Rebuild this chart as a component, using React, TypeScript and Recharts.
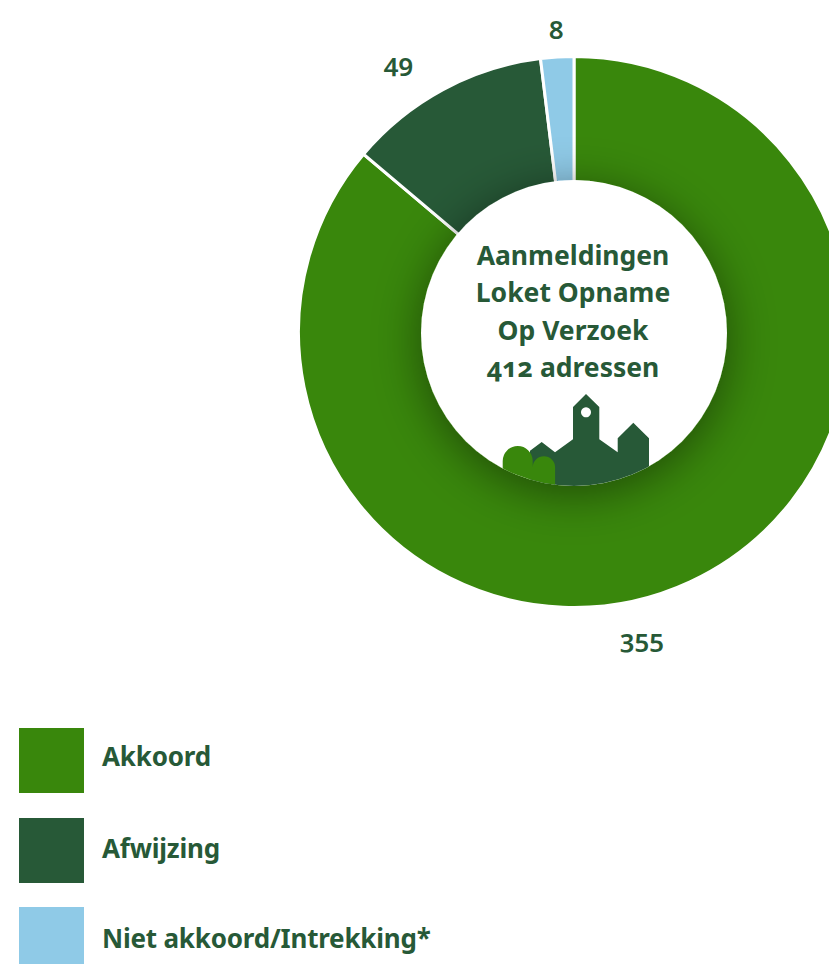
import { PieChart, Pie, Cell, Legend } from "recharts";

const CATEGORIES = ["Akkoord", "Afwijzing", "Niet akkoord/Intrekking*"];
const VALUES = [355, 49, 8];
const COLORS = ["#39870c", "#275937", "#8fcae7"];
const CENTER_LINES = ["Aanmeldingen", "Loket Opname", "Op Verzoek", "412 adressen"];

const TEXT_COLOR = "#275937";
const FONT = "'Noto Sans', sans-serif";

const data = CATEGORIES.map((name, i) => ({ name, value: VALUES[i] }));

const CX = 574;
const CY = 332;
const HOLE_CY = 333;
const INNER = 150;
const HOLE = 153;
const OUTER = 275.5;

// labels sit off the slice midpoint in the original, so nudge each one
const LABEL_NUDGE = [
  { dx: -61, dy: 28 },
  { dx: -30, dy: -1 },
  { dx: 1, dy: 2 },
];
const LEGEND_PAD = [10, 4, 4];

function renderLabel({ cx, cy, midAngle, index, value }: any) {
  const rad = (Math.PI / 180) * midAngle;
  const r = 306;
  const x = cx + r * Math.cos(rad) + LABEL_NUDGE[index].dx;
  const y = cy - r * Math.sin(rad) + LABEL_NUDGE[index].dy;
  return (
    <text
      key={index}
      x={x}
      y={y}
      textAnchor="middle"
      dominantBaseline="central"
      fill={TEXT_COLOR}
      fontFamily={FONT}
      fontSize={26}
      fontWeight={600}
      style={{ fontVariantNumeric: "oldstyle-nums" }}
    >
      {value}
    </text>
  );
}

function LegendList({ payload }: any) {
  return (
    <div>
      {(payload || []).map((item: any, i: number) => (
        <div key={item.value} style={{ display: "flex", alignItems: "center", height: 65, marginBottom: 24.5 }}>
          <div style={{ width: 65, height: 65, background: item.color, marginRight: 18, flex: "none" }} />
          <span
            style={{
              color: TEXT_COLOR,
              fontFamily: FONT,
              fontSize: 26,
              fontWeight: 700,
              whiteSpace: "nowrap",
              letterSpacing: -0.2,
              paddingBottom: LEGEND_PAD[i],
            }}
          >
            {item.value}
          </span>
        </div>
      ))}
    </div>
  );
}

function Center() {
  return (
    <g>
      <defs>
        <filter id="holeShadow" x="-40%" y="-40%" width="180%" height="180%">
          <feDropShadow dx="0" dy="8" stdDeviation="24" floodColor="#000" floodOpacity="0.45" />
        </filter>
        <clipPath id="holeClip">
          <circle cx={CX} cy={HOLE_CY} r={HOLE} />
        </clipPath>
      </defs>
      <circle cx={CX} cy={HOLE_CY} r={HOLE} fill="#fff" filter="url(#holeShadow)" />
      <g clipPath="url(#holeClip)">
        <path
          fill={TEXT_COLOR}
          fillRule="evenodd"
          d="M586 394 L599.3 407 V439.3 L617.7 452.3 V438.3 L633.3 422.7 L649 438.3 V495 H530 V450.7 L541.7 442 L555 452.3 L573 439.3 V407 Z M586 407.3 a5 5 0 1 0 0.01 0 Z"
        />
        <path
          fill={COLORS[0]}
          d="M502.7 495 V461 a15 15 0 0 1 30 0 V495 Z M532.7 495 V467.5 a11.2 11.2 0 0 1 22.4 0 V495 Z"
        />
      </g>
      {CENTER_LINES.map((line, i) => (
        <text
          key={line}
          x={573}
          y={255 + i * 37.4}
          textAnchor="middle"
          dominantBaseline="central"
          fill={TEXT_COLOR}
          fontFamily={FONT}
          fontSize={26.5}
          fontWeight={700}
          style={{ fontVariantNumeric: "oldstyle-nums" }}
        >
          {line}
        </text>
      ))}
    </g>
  );
}

export default function App() {
  return (
    <div style={{ position: "fixed", left: 0, top: 0, width: 829, height: 964, overflow: "hidden", background: "#fff" }}>
      <PieChart width={829} height={964} margin={{ top: 0, right: 0, bottom: 0, left: 0 }}>
        <Pie
          data={data}
          dataKey="value"
          nameKey="name"
          cx={CX}
          cy={CY}
          innerRadius={INNER}
          outerRadius={OUTER}
          startAngle={90}
          endAngle={-270}
          stroke="#fff"
          strokeWidth={3}
          label={renderLabel}
          labelLine={false}
          isAnimationActive={false}
          zIndex={-1}
        >
          {data.map((d, i) => (
            <Cell key={d.name} fill={COLORS[i]} />
          ))}
        </Pie>
        <Center />
        <Legend
          content={<LegendList />}
          itemSorter={null}
          layout="vertical"
          wrapperStyle={{ position: "absolute", left: 19, top: 728, width: 500, height: 240, bottom: "auto" }}
        />
      </PieChart>
    </div>
  );
}
